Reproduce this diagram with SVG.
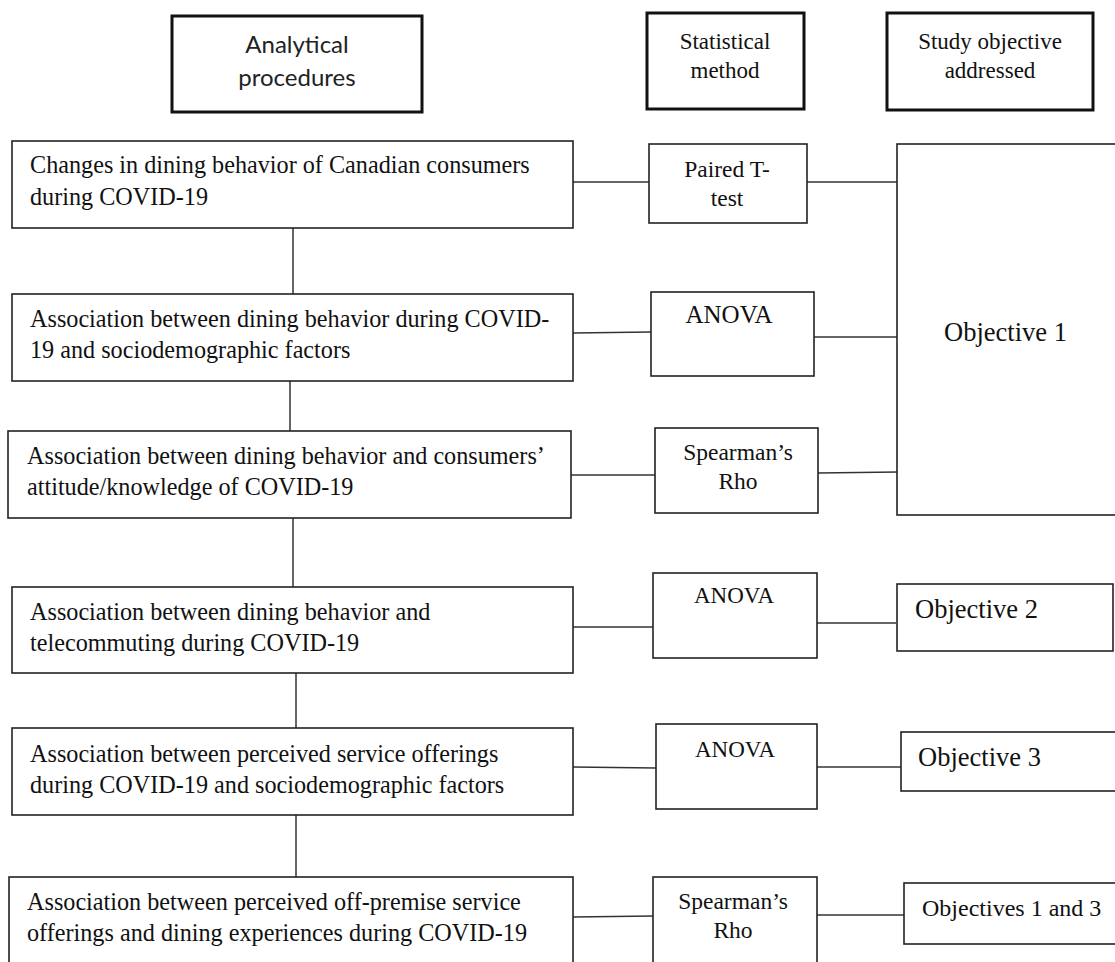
<svg xmlns="http://www.w3.org/2000/svg" width="1115" height="962" viewBox="0 0 1115 962">
<style>
.hdr{fill:#fff;stroke:#111;stroke-width:3}
.box{fill:#fff;stroke:#222;stroke-width:1.6}
.con{stroke:#333;stroke-width:1.5;fill:none}
.hs{font-family:Lato,"Liberation Sans",sans-serif;font-size:24px;fill:#222;text-anchor:middle}
.hr{font-family:"Liberation Serif",serif;font-size:23px;fill:#111;text-anchor:middle}
.t{font-family:"Liberation Serif",serif;font-size:24.2px;fill:#111}
.c{font-family:"Liberation Serif",serif;font-size:23.5px;fill:#111;text-anchor:middle}
.o{font-family:"Liberation Serif",serif;font-size:26.5px;fill:#111}
</style>
<rect width="1115" height="962" fill="#fff"/>
<g id="connectors">
<line class="con" x1="293" y1="228" x2="293" y2="294"/>
<line class="con" x1="290" y1="381" x2="290" y2="431"/>
<line class="con" x1="293" y1="518" x2="293" y2="587"/>
<line class="con" x1="296" y1="673" x2="296" y2="728"/>
<line class="con" x1="296" y1="815" x2="296" y2="877"/>
<line class="con" x1="573" y1="182" x2="649" y2="182"/>
<line class="con" x1="807" y1="182" x2="897" y2="182"/>
<line class="con" x1="573" y1="333" x2="651" y2="332"/>
<line class="con" x1="814" y1="337" x2="897" y2="337"/>
<line class="con" x1="571" y1="475" x2="655" y2="475"/>
<line class="con" x1="818" y1="473" x2="898" y2="472"/>
<line class="con" x1="573" y1="627" x2="653" y2="627"/>
<line class="con" x1="817" y1="623" x2="896" y2="623"/>
<line class="con" x1="573" y1="767" x2="656" y2="768"/>
<line class="con" x1="817" y1="767" x2="901" y2="767"/>
<line class="con" x1="573" y1="917" x2="653" y2="916"/>
<line class="con" x1="817" y1="915" x2="904" y2="915"/>
</g>
<g id="hdr-analytical">
<rect class="hdr" x="172" y="16" width="250" height="96"/>
<text class="hs" x="297" y="53">Analytical</text>
<text class="hs" x="297" y="86">procedures</text>
</g>
<g id="hdr-method">
<rect class="hdr" x="647" y="13" width="157" height="96"/>
<text class="hr" x="725" y="49">Statistical</text>
<text class="hr" x="725" y="78">method</text>
</g>
<g id="hdr-objective">
<rect class="hdr" x="887" y="13" width="206" height="97"/>
<text class="hr" x="990" y="49">Study objective</text>
<text class="hr" x="990" y="78">addressed</text>
</g>
<g id="p1">
<rect class="box" x="12" y="141" width="561" height="87"/>
<text class="t" x="30" y="173">Changes in dining behavior of Canadian consumers</text>
<text class="t" x="30" y="205">during COVID-19</text>
</g>
<g id="p2">
<rect class="box" x="12" y="294" width="561" height="87"/>
<text class="t" x="30" y="327">Association between dining behavior during COVID-</text>
<text class="t" x="30" y="358">19 and sociodemographic factors</text>
</g>
<g id="p3">
<rect class="box" x="8" y="431" width="563" height="87"/>
<text class="t" x="27" y="464">Association between dining behavior and consumers’</text>
<text class="t" x="27" y="495">attitude/knowledge of COVID-19</text>
</g>
<g id="p4">
<rect class="box" x="12" y="587" width="561" height="86"/>
<text class="t" x="30" y="620">Association between dining behavior and</text>
<text class="t" x="30" y="651">telecommuting during COVID-19</text>
</g>
<g id="p5">
<rect class="box" x="12" y="728" width="561" height="87"/>
<text class="t" x="30" y="762">Association between perceived service offerings</text>
<text class="t" x="30" y="793">during COVID-19 and sociodemographic factors</text>
</g>
<g id="p6">
<rect class="box" x="9" y="877" width="564" height="100"/>
<text class="t" x="27" y="910">Association between perceived off-premise service</text>
<text class="t" x="27" y="941">offerings and dining experiences during COVID-19</text>
</g>
<g id="m1">
<rect class="box" x="649" y="144" width="158" height="79"/>
<text class="c" x="727" y="177">Paired T-</text>
<text class="c" x="727" y="206">test</text>
</g>
<g id="m2">
<rect class="box" x="651" y="292" width="163" height="84"/>
<text class="c" x="729" y="323" style="font-size:25px">ANOVA</text>
</g>
<g id="m3">
<rect class="box" x="655" y="428" width="163" height="85"/>
<text class="c" x="738" y="460">Spearman’s</text>
<text class="c" x="738" y="489">Rho</text>
</g>
<g id="m4">
<rect class="box" x="653" y="573" width="164" height="85"/>
<text class="c" x="734" y="603" style="font-size:23px">ANOVA</text>
</g>
<g id="m5">
<rect class="box" x="656" y="724" width="161" height="85"/>
<text class="c" x="735" y="757" style="font-size:23px">ANOVA</text>
</g>
<g id="m6">
<rect class="box" x="653" y="877" width="164" height="100"/>
<text class="c" x="733" y="909">Spearman’s</text>
<text class="c" x="733" y="938">Rho</text>
</g>
<g id="o1">
<rect class="box" x="897" y="144" width="222" height="371"/>
<text class="o" x="944" y="341">Objective 1</text>
</g>
<g id="o2">
<rect class="box" x="897" y="584" width="216" height="67"/>
<text class="o" x="915" y="618">Objective 2</text>
</g>
<g id="o3">
<rect class="box" x="901" y="732" width="218" height="59"/>
<text class="o" x="918" y="766">Objective 3</text>
</g>
<g id="o13">
<rect class="box" x="904" y="883" width="215" height="61"/>
<text class="o" x="922" y="916" style="font-size:24px">Objectives 1 and 3</text>
</g>
</svg>
